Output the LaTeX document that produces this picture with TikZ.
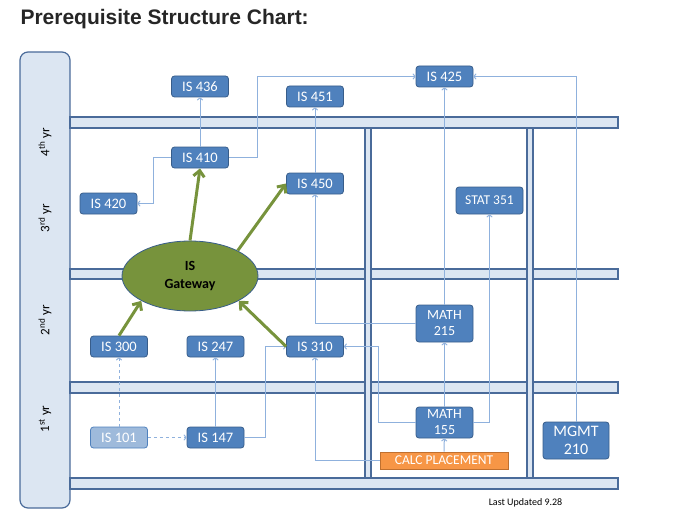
\documentclass[tikz,border=0pt]{standalone}
\usepackage{fontspec}
\setmainfont{Carlito}
\newfontfamily\titlefont{Liberation Sans}
\usetikzlibrary{arrows.meta,shapes.geometric}
\definecolor{crsfill}{HTML}{4F81BD}
\definecolor{crsline}{HTML}{385D8A}
\definecolor{barfill}{HTML}{DCE6F2}
\definecolor{barline}{HTML}{4A6B9A}
\definecolor{linkblue}{HTML}{8FB1DD}
\definecolor{gwgreen}{HTML}{77933C}
\definecolor{calcfill}{HTML}{F79646}
\definecolor{calcline}{HTML}{C0702F}

\begin{document}
\begin{tikzpicture}[x=1pt,y=-1pt,
  course/.style={draw=crsline,fill=crsfill,rounded corners=3pt,text=white,minimum width=57pt,minimum height=21pt,inner sep=1pt,align=center,font=\fontsize{14.5}{16}\selectfont,line width=0.8pt},
  bar/.style={draw=barline,fill=barfill,line width=1.2pt},
  link/.style={draw=linkblue,line width=1pt,-{To[length=3pt,width=6pt]}},
  gwlink/.style={draw=gwgreen,line width=3pt,-{Straight Barb[length=6pt,width=11pt]}},
  yrlabel/.style={rotate=90,font=\fontsize{13}{15}\selectfont}]
  \useasboundingbox (0,0) rectangle (677,516);
  \node[anchor=west,font=\titlefont\bfseries\fontsize{21}{24}\selectfont,text=black!85] (title) at (17,19) {Prerequisite Structure Chart:};
  % year column and grid
  \draw[bar,rounded corners=8pt] (20,52) rectangle (70,508);
  \draw[bar] (70,117) rectangle (618,128);
  \draw[bar] (70,269) rectangle (618,279);
  \draw[bar] (70,382) rectangle (618,393);
  \draw[bar] (70,478) rectangle (618,489);
  \draw[bar] (365,128) rectangle (371,478);
  \draw[bar] (527,128) rectangle (533,478);
  \node[yrlabel] (yr4) at (45,142) {4\textsuperscript{th} yr};
  \node[yrlabel] (yr3) at (45,218) {3\textsuperscript{rd} yr};
  \node[yrlabel] (yr2) at (45,320) {2\textsuperscript{nd} yr};
  \node[yrlabel] (yr1) at (45,419) {1\textsuperscript{st} yr};
  % courses
  \node[course] (is436) at (200,86.5) {IS 436};
  \node[course] (is451) at (315,96.5) {IS 451};
  \node[course] (is425) at (444.5,76.5) {IS 425};
  \node[course] (is410) at (200,157.5) {IS 410};
  \node[course] (is450) at (315,183.5) {IS 450};
  \node[course] (is420) at (108.5,203.5) {IS 420};
  \node[course,minimum width=67pt,minimum height=27pt,font=\fontsize{13.5}{15}\selectfont] (stat351) at (489.5,200.5) {STAT 351};
  \node[ellipse,draw=crsline,fill=gwgreen,line width=0.8pt,minimum width=136pt,minimum height=70pt,inner sep=0pt,align=center,font=\bfseries\fontsize{14}{18}\selectfont] (gateway) at (190,276) {IS\\Gateway};
  \node[course] (is300) at (119,346.5) {IS 300};
  \node[course] (is247) at (215.5,346.5) {IS 247};
  \node[course] (is310) at (315,346.5) {IS 310};
  \node[course,minimum height=37pt,font=\fontsize{14}{16}\selectfont] (math215) at (444.5,323.5) {MATH\\215};
  \node[course,fill=crsfill!55,draw=crsfill] (is101) at (119,437.5) {IS 101};
  \node[course] (is147) at (215.5,437.5) {IS 147};
  \node[course,minimum height=31pt,font=\fontsize{14}{16}\selectfont] (math155) at (444.5,422.5) {MATH\\155};
  \node[draw=calcline,fill=calcfill,text=white,line width=0.8pt,minimum width=128pt,minimum height=17pt,inner sep=0pt,font=\fontsize{13.5}{15}\selectfont] (calc) at (444,460.5) {CALC PLACEMENT};
  \node[course,minimum width=66pt,minimum height=37pt,font=\fontsize{16}{18}\selectfont] (mgmt210) at (576,440.5) {MGMT\\210};
  \node[font=\fontsize{10}{11}\selectfont] (updated) at (525.5,503) {Last Updated 9.28};
  % prerequisites
  \draw[link] (is410) -- (is436);
  \draw[link] (is410.west) -- ++(-18,0) |- (is420.east);
  \draw[link] (is410.east) -- ++(29,0) |- (is425.west);
  \draw[link] (is450) -- (is451);
  \draw[link] (math215.west) -| (is450.south);
  \draw[link] (calc.west) -| (is310.south);
  \draw[link] (math155.west) -- ++(-37,0) |- (is310.east);
  \draw[link] (math155.east) -| (stat351.south);
  \draw[link] (math155) -- (math215);
  \draw[link] (calc) -- (math155);
  \draw[link] (math215) -- (is425);
  \draw[link] (mgmt210.north) |- (is425.east);
  \draw[link] (is147) -- (is247);
  \draw[link] (is147.east) -- ++(21,0) |- (is310.west);
  \draw[link,dashed] (is101) -- (is147);
  \draw[link,dashed] (is101) -- (is300);
  % gateway
  \draw[gwlink] (is300.north) -- (gateway.207);
  \draw[gwlink] (is310.west) -- (gateway.333);
  \draw[gwlink] (gateway.90) -- (is410.south);
  \draw[gwlink] (gateway.28) -- (is450.west);
\end{tikzpicture}
\end{document}
